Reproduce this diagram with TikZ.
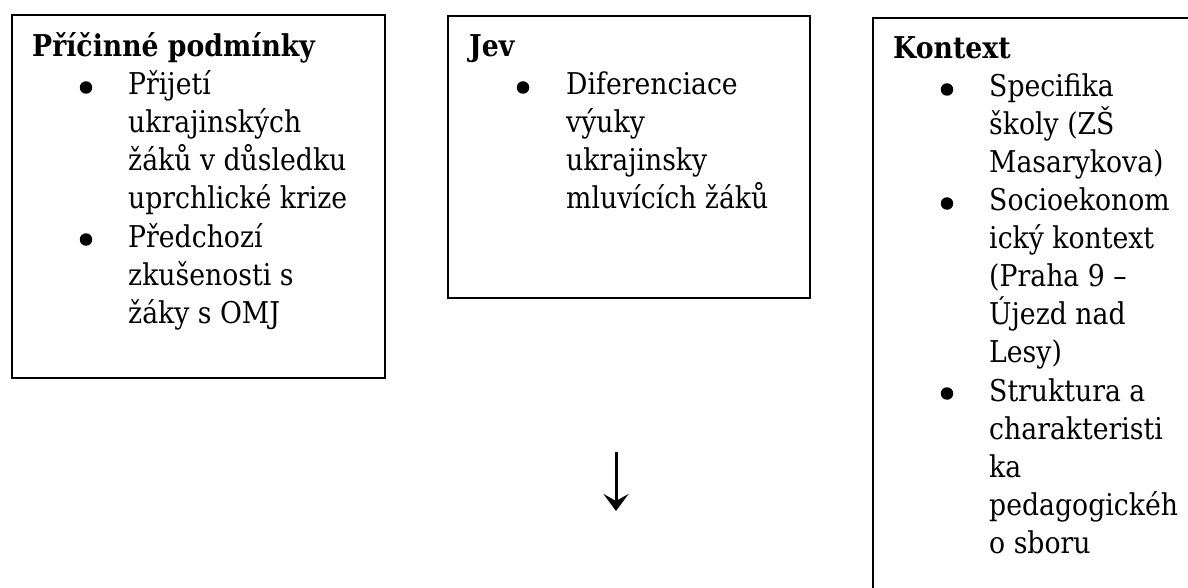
\documentclass[tikz,border=0pt]{standalone}
\usepackage{fontspec}
\setmainfont{DejaVu Serif}[FakeStretch=0.89]
\usetikzlibrary{arrows.meta}
\begin{document}
\begin{tikzpicture}[x=1pt,y=-1pt,
  box/.style={draw=black, line width=2pt, rectangle, anchor=north west, inner sep=0pt},
  txt/.style={anchor=base west, inner sep=0pt, font=\fontsize{30}{38}\selectfont},
  ttl/.style={anchor=base west, inner sep=0pt, font=\fontsize{30}{38}\selectfont\bfseries},
  dot/.style={circle, fill=black, draw=none, inner sep=0pt, minimum size=12.5pt}]
\useasboundingbox (0,0) rectangle (1188,588);
\clip (0,0) rectangle (1188,588);
% boxes
\node[box, minimum width=373.5pt, minimum height=362.5pt] (b1) at (10.5,14.5) {};
\node[box, minimum width=362pt, minimum height=282pt] (b2) at (447,15) {};
\node[box, minimum width=400pt, minimum height=620pt] (b3) at (872,17) {};
% box 1
\node[ttl] (t1) at (32,57) {Příčinné podmínky};
\node[dot] (d11) at (86,87.5) {};
\node[txt] (i11) at (128,95) {\vtop{\hbox{Přijetí}\hbox{ukrajinských}\hbox{žáků v důsledku}\hbox{uprchlické krize}}};
\node[dot] (d12) at (86,239.5) {};
\node[txt] (i12) at (128,247) {\vtop{\hbox{Předchozí}\hbox{zkušenosti s}\hbox{žáky s OMJ}}};
% box 2
\node[ttl] (t2) at (469,57) {Jev};
\node[dot] (d21) at (523,87.5) {};
\node[txt] (i21) at (566,95) {\vtop{\hbox{Diferenciace}\hbox{výuky}\hbox{ukrajinsky}\hbox{mluvících žáků}}};
% box 3
\node[ttl] (t3) at (893,59) {Kontext};
\node[dot] (d31) at (947,89.5) {};
\node[txt] (i31) at (989,97) {\vtop{\hbox{Specifika}\hbox{školy (ZŠ}\hbox{Masarykova)}}};
\node[dot] (d32) at (947,203.5) {};
\node[txt] (i32) at (989,211) {\vtop{\hbox{Socioekonom}\hbox{ický kontext}\hbox{(Praha 9 –}\hbox{Újezd nad}\hbox{Lesy)}}};
\node[dot] (d33) at (947,393.5) {};
\node[txt] (i33) at (989,401) {\vtop{\hbox{Struktura a}\hbox{charakteristi}\hbox{ka}\hbox{pedagogickéh}\hbox{o sboru}}};
% arrow
\coordinate (as) at (616,452);
\coordinate (ae) at (616,511);
\draw[line width=3pt, -{Stealth[length=17pt,width=25pt,inset=7pt]}] (as) -- (ae);
\end{tikzpicture}
\end{document}
